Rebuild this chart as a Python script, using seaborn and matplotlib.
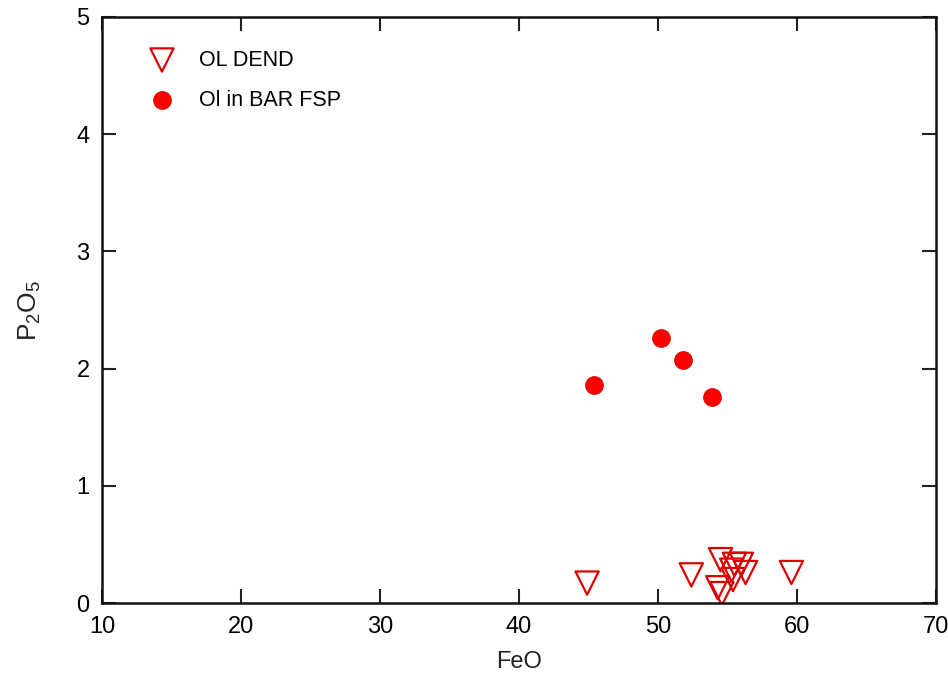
import seaborn as sns
import matplotlib.pyplot as plt
import pandas as pd

# Ol dendrites (open triangles)
dend_feo = [44.9, 52.4, 59.6, 54.5, 54.3, 54.6, 55.5, 56.0, 56.3, 55.3, 55.4]
dend_p2o5 = [0.17, 0.24, 0.26, 0.37, 0.13, 0.08, 0.33, 0.33, 0.26, 0.28, 0.20]

# Ol in barred feldspar (filled circles)
bar_feo = [45.4, 50.2, 51.8, 53.9]
bar_p2o5 = [1.86, 2.26, 2.07, 1.76]

dend = pd.DataFrame({"FeO": dend_feo, "P2O5": dend_p2o5})
bar = pd.DataFrame({"FeO": bar_feo, "P2O5": bar_p2o5})

sns.set_style("ticks")
plt.rcParams["font.family"] = ["Liberation Sans", "DejaVu Sans"]
plt.rcParams["mathtext.default"] = "regular"
plt.rcParams["text.color"] = "black"

fig = plt.figure(figsize=(9.48, 6.77), dpi=100)
ax = fig.add_axes([0.1076, 0.1093, 0.8797, 0.8656])

sns.scatterplot(data=dend, x="FeO", y="P2O5", marker="v", s=280,
                fc="none", ec="#dd0000", linewidth=1.6, label="OL DEND", ax=ax)
sns.scatterplot(data=bar, x="FeO", y="P2O5", marker="o", s=160,
                color="#ff0000", ec="#e00000", linewidth=0.8,
                label="Ol in BAR FSP", ax=ax)

ax.set_xlim(10, 70)
ax.set_ylim(0, 5)
ax.set_xticks(range(10, 71, 10))
ax.set_yticks(range(0, 6))
ax.tick_params(direction="in", length=10, width=1.5, top=True, right=True,
               labelsize=17, pad=9, color="#222222", labelcolor="black")
for sp in ax.spines.values():
    sp.set_linewidth(1.8)
    sp.set_color("#111111")

ax.set_xlabel("FeO", fontsize=17, labelpad=10, color="#222222")
ax.set_ylabel(r"P$_2$O$_5$", fontsize=19, labelpad=24, color="#222222")

ax.legend(loc="upper left", bbox_to_anchor=(0.028, 0.97), frameon=False,
          fontsize=15.5, handletextpad=0.7, labelspacing=0.9, borderaxespad=0.3)

fig.savefig("out.png", dpi=100)
